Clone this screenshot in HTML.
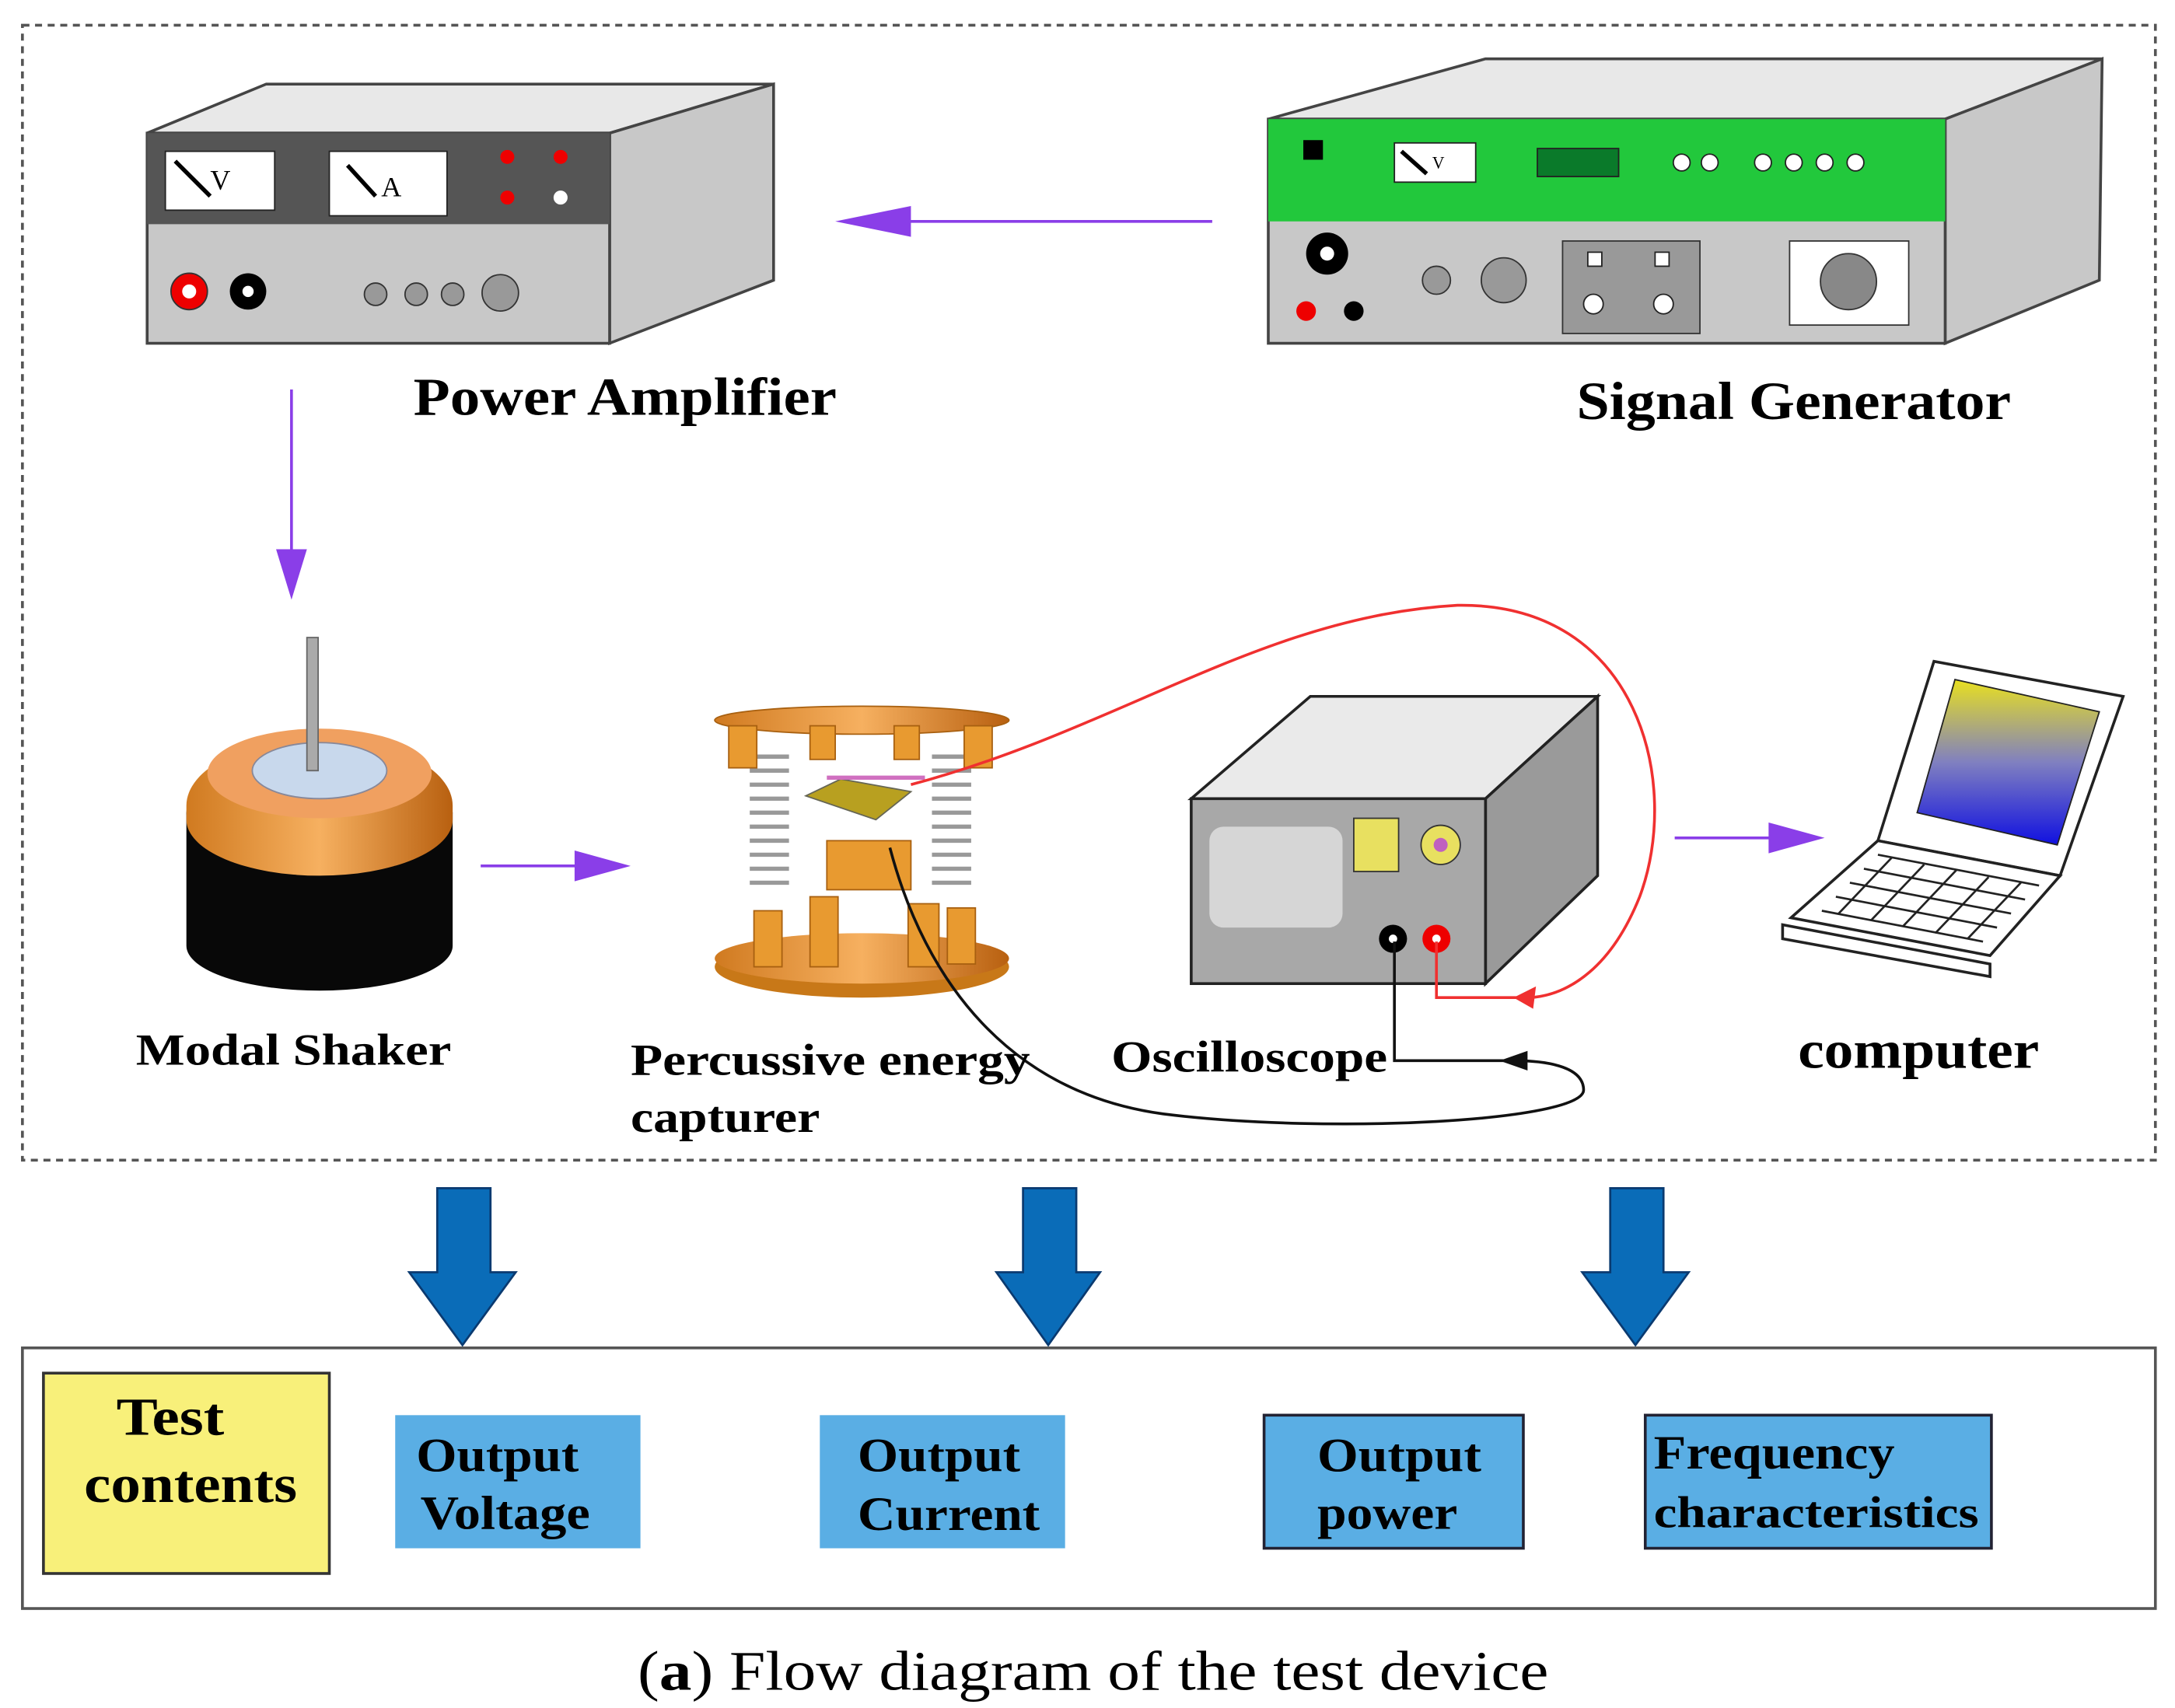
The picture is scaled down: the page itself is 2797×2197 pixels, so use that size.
<!DOCTYPE html>
<html><head><meta charset="utf-8"><style>
html,body{margin:0;padding:0;background:#fff}
svg{display:block}
text{font-family:"Liberation Serif",serif}
</style></head><body>
<svg width="2797" height="2197" viewBox="0 0 1552 1219" preserveAspectRatio="none" xmlns="http://www.w3.org/2000/svg">
<defs>
<linearGradient id="scr" x1="0" y1="0" x2="0" y2="1"><stop offset="0" stop-color="#e8e020"/><stop offset="0.5" stop-color="#8080c0"/><stop offset="1" stop-color="#1010e0"/></linearGradient>
<linearGradient id="org" x1="0" y1="0" x2="1" y2="0"><stop offset="0" stop-color="#d07a20"/><stop offset="0.5" stop-color="#f6b060"/><stop offset="1" stop-color="#b86010"/></linearGradient>
</defs>
<rect x="16" y="18" width="1522" height="810" fill="none" stroke="#555" stroke-width="2" stroke-dasharray="5,4"/>

<!-- Power amplifier -->
<polygon points="105,95 190,60 552,60 435,95" fill="#e8e8e8" stroke="#444" stroke-width="2"/>
<polygon points="435,95 552,60 552,200 435,245" fill="#c8c8c8" stroke="#444" stroke-width="2"/>
<rect x="105" y="95" width="330" height="150" fill="#c8c8c8" stroke="#444" stroke-width="2"/>
<rect x="105" y="95" width="330" height="65" fill="#555"/>
<rect x="118" y="108" width="78" height="42" fill="#fff" stroke="#222"/>
<rect x="235" y="108" width="84" height="46" fill="#fff" stroke="#222"/>
<path d="M125,115 L150,140" stroke="#000" stroke-width="3"/><text x="150" y="135" font-size="20" font-family="Liberation Sans">V</text>
<path d="M248,118 L268,140" stroke="#000" stroke-width="3"/><text x="272" y="140" font-size="20" font-family="Liberation Sans">A</text>
<circle cx="362" cy="112" r="5" fill="#e00"/><circle cx="400" cy="112" r="5" fill="#e00"/>
<circle cx="362" cy="141" r="5" fill="#e00"/><circle cx="400" cy="141" r="5" fill="#fff"/>
<circle cx="135" cy="208" r="13" fill="#e00" stroke="#333"/><circle cx="135" cy="208" r="5" fill="#fff"/>
<circle cx="177" cy="208" r="13" fill="#000"/><circle cx="177" cy="208" r="4" fill="#fff"/>
<circle cx="268" cy="210" r="8" fill="#999" stroke="#333"/><circle cx="297" cy="210" r="8" fill="#999" stroke="#333"/><circle cx="323" cy="210" r="8" fill="#999" stroke="#333"/><circle cx="357" cy="209" r="13" fill="#999" stroke="#333"/>
<text x="295" y="296" font-size="38" font-weight="bold" textLength="302" lengthAdjust="spacingAndGlyphs">Power Amplifier</text>

<!-- Signal generator -->
<polygon points="905,85 1060,42 1500,42 1388,85" fill="#e8e8e8" stroke="#444" stroke-width="2"/>
<polygon points="1388,85 1500,42 1498,200 1388,245" fill="#c8c8c8" stroke="#444" stroke-width="2"/>
<rect x="905" y="85" width="483" height="160" fill="#c8c8c8" stroke="#444" stroke-width="2"/>
<rect x="905" y="85" width="483" height="73" fill="#22c83c"/>
<rect x="930" y="100" width="14" height="14" fill="#000"/>
<rect x="995" y="102" width="58" height="28" fill="#fff" stroke="#222"/><path d="M1000,108 L1018,124" stroke="#000" stroke-width="3"/><text x="1022" y="120" font-size="12" font-family="Liberation Sans">V</text>
<rect x="1097" y="106" width="58" height="20" fill="#0a7a2a" stroke="#222"/>
<g fill="#fff" stroke="#222"><circle cx="1200" cy="116" r="6"/><circle cx="1220" cy="116" r="6"/><circle cx="1258" cy="116" r="6"/><circle cx="1280" cy="116" r="6"/><circle cx="1302" cy="116" r="6"/><circle cx="1324" cy="116" r="6"/></g>
<circle cx="947" cy="181" r="15" fill="#000"/><circle cx="947" cy="181" r="5" fill="#fff"/>
<circle cx="932" cy="222" r="7" fill="#e00"/><circle cx="966" cy="222" r="7" fill="#000"/>
<circle cx="1025" cy="200" r="10" fill="#999" stroke="#333"/><circle cx="1073" cy="200" r="16" fill="#999" stroke="#333"/>
<rect x="1115" y="172" width="98" height="66" fill="#999" stroke="#333"/>
<rect x="1133" y="180" width="10" height="10" fill="#fff" stroke="#222"/><rect x="1181" y="180" width="10" height="10" fill="#fff" stroke="#222"/>
<circle cx="1137" cy="217" r="7" fill="#fff" stroke="#222"/><circle cx="1187" cy="217" r="7" fill="#fff" stroke="#222"/>
<rect x="1277" y="172" width="85" height="60" fill="#fff" stroke="#333"/><circle cx="1319" cy="201" r="20" fill="#888" stroke="#333"/>
<text x="1125" y="299" font-size="38" font-weight="bold" textLength="310" lengthAdjust="spacingAndGlyphs">Signal Generator</text>

<!-- purple arrows -->
<line x1="865" y1="158" x2="620" y2="158" stroke="#8a3ee8" stroke-width="2"/>
<polygon points="596,158 650,147 650,169" fill="#8a3ee8"/>
<line x1="208" y1="278" x2="208" y2="410" stroke="#8a3ee8" stroke-width="2"/>
<polygon points="208,428 197,392 219,392" fill="#8a3ee8"/>
<line x1="343" y1="618" x2="430" y2="618" stroke="#8a3ee8" stroke-width="2"/>
<polygon points="450,618 410,607 410,629" fill="#8a3ee8"/>
<line x1="1195" y1="598" x2="1285" y2="598" stroke="#8a3ee8" stroke-width="2"/>
<polygon points="1302,598 1262,587 1262,609" fill="#8a3ee8"/>

<!-- Modal shaker -->
<path d="M133,580 L133,675 A95,32 0 0 0 323,675 L323,580 Z" fill="#080808"/>
<ellipse cx="228" cy="580" rx="95" ry="30" fill="#111"/>
<path d="M133,575 A95,48 0 0 1 323,575 L323,585 A95,40 0 0 1 133,585 Z" fill="url(#org)"/>
<ellipse cx="228" cy="552" rx="80" ry="32" fill="#f0a060"/>
<ellipse cx="228" cy="550" rx="48" ry="20" fill="#c8d8ec" stroke="#889"/>
<rect x="219" y="455" width="8" height="95" fill="#aaa" stroke="#666"/>

<!-- Percussive capturer -->
<ellipse cx="615" cy="690" rx="105" ry="22" fill="#c87818"/>
<ellipse cx="615" cy="684" rx="105" ry="18" fill="url(#org)"/>
<ellipse cx="615" cy="514" rx="105" ry="10" fill="url(#org)" stroke="#a86010"/>
<g stroke="#999" stroke-width="3" fill="none">
<path d="M535,540 h28 M535,550 h28 M535,560 h28 M535,570 h28 M535,580 h28 M535,590 h28 M535,600 h28 M535,610 h28 M535,620 h28 M535,630 h28"/>
<path d="M665,540 h28 M665,550 h28 M665,560 h28 M665,570 h28 M665,580 h28 M665,590 h28 M665,600 h28 M665,610 h28 M665,620 h28 M665,630 h28"/>
</g>
<g fill="#e89a30" stroke="#a86010"><rect x="520" y="518" width="20" height="30"/><rect x="688" y="518" width="20" height="30"/><rect x="578" y="518" width="18" height="24"/><rect x="638" y="518" width="18" height="24"/>
<rect x="538" y="650" width="20" height="40"/><rect x="578" y="640" width="20" height="50"/><rect x="648" y="645" width="22" height="45"/><rect x="676" y="648" width="20" height="40"/>
<rect x="590" y="600" width="60" height="35"/></g>
<polygon points="575,568 600,556 650,565 625,585" fill="#b8a020" stroke="#665"/>
<line x1="590" y1="555" x2="660" y2="555" stroke="#d070c0" stroke-width="3"/>

<!-- Oscilloscope -->
<polygon points="850,570 935,497 1140,497 1060,570" fill="#eaeaea" stroke="#222" stroke-width="2"/>
<polygon points="1060,570 1140,497 1140,625 1060,702" fill="#9a9a9a" stroke="#222" stroke-width="2"/>
<rect x="850" y="570" width="210" height="132" fill="#a8a8a8" stroke="#222" stroke-width="2"/>
<rect x="863" y="590" width="95" height="72" rx="10" fill="#d6d6d6"/>
<rect x="966" y="584" width="32" height="38" fill="#e8e060" stroke="#333"/>
<circle cx="1028" cy="603" r="14" fill="#e8e060" stroke="#333"/><circle cx="1028" cy="603" r="5" fill="#c060c0"/>
<circle cx="994" cy="670" r="10" fill="#000"/><circle cx="994" cy="670" r="3" fill="#fff"/>
<circle cx="1025" cy="670" r="10" fill="#e00"/><circle cx="1025" cy="670" r="3" fill="#fff"/>

<!-- wires -->
<path d="M650,560 C800,520 900,440 1040,432 C1170,430 1200,560 1170,640 C1150,690 1120,710 1092,712" fill="none" stroke="#f03030" stroke-width="2"/>
<polygon points="1080,712 1096,704 1094,720" fill="#f03030"/>
<path d="M1092,712 L1025,712 L1025,672" fill="none" stroke="#f03030" stroke-width="2"/>
<path d="M635,605 C660,700 720,780 830,795 C950,810 1130,800 1130,778 C1130,760 1100,757 1080,757" fill="none" stroke="#111" stroke-width="2"/>
<polygon points="1070,757 1090,750 1090,764" fill="#111"/>
<path d="M1080,757 L995,757 L995,672" fill="none" stroke="#111" stroke-width="2"/>

<!-- Laptop -->
<polygon points="1340,600 1380,472 1515,497 1470,625" fill="#fff" stroke="#222" stroke-width="2"/>
<polygon points="1368,580 1395,485 1498,508 1468,603" fill="url(#scr)" stroke="#222"/>
<polygon points="1278,655 1340,600 1470,625 1420,682" fill="#fff" stroke="#222" stroke-width="2"/>
<polygon points="1272,660 1420,688 1420,697 1272,670" fill="#fff" stroke="#222" stroke-width="2"/>
<g stroke="#222" stroke-width="1.5">
<line x1="1300" y1="650" x2="1415" y2="672"/><line x1="1310" y1="640" x2="1425" y2="662"/><line x1="1320" y1="630" x2="1435" y2="652"/><line x1="1330" y1="620" x2="1445" y2="642"/><line x1="1340" y1="610" x2="1455" y2="632"/>
<line x1="1312" y1="652" x2="1350" y2="612"/><line x1="1335" y1="657" x2="1373" y2="617"/><line x1="1358" y1="661" x2="1396" y2="621"/><line x1="1381" y1="666" x2="1419" y2="626"/><line x1="1404" y1="670" x2="1442" y2="630"/>
</g>

<!-- labels -->
<g font-weight="bold" lengthAdjust="spacingAndGlyphs">
<text x="97" y="760" font-size="32" textLength="225" lengthAdjust="spacingAndGlyphs">Modal Shaker</text>
<text x="450" y="767" font-size="32" textLength="285" lengthAdjust="spacingAndGlyphs">Percussive energy</text>
<text x="450" y="808" font-size="32" textLength="135" lengthAdjust="spacingAndGlyphs">capturer</text>
<text x="793" y="765" font-size="32" textLength="197" lengthAdjust="spacingAndGlyphs">Oscilloscope</text>
<text x="1283" y="762" font-size="38" textLength="172" lengthAdjust="spacingAndGlyphs">computer</text>
</g>

<!-- blue arrows -->
<g fill="#0a6cb8" stroke="#0a3a70" stroke-width="1.5">
<polygon points="312,848 350,848 350,908 368,908 330,960 292,908 312,908"/>
<polygon points="730,848 768,848 768,908 785,908 748,960 711,908 730,908"/>
<polygon points="1149,848 1187,848 1187,908 1205,908 1167,960 1129,908 1149,908"/>
</g>

<!-- bottom box -->
<rect x="16" y="962" width="1522" height="186" fill="#fff" stroke="#555" stroke-width="2"/>
<rect x="31" y="980" width="204" height="143" fill="#f8f07a" stroke="#333" stroke-width="2"/>
<text x="83" y="1024" font-size="38" font-weight="bold" textLength="77" lengthAdjust="spacingAndGlyphs">Test</text>
<text x="60" y="1072" font-size="38" font-weight="bold" textLength="152" lengthAdjust="spacingAndGlyphs">contents</text>
<g fill="#5aaee4"><rect x="282" y="1010" width="175" height="95"/><rect x="585" y="1010" width="175" height="95"/></g>
<rect x="902" y="1010" width="185" height="95" fill="#5aaee4" stroke="#223" stroke-width="2"/>
<rect x="1174" y="1010" width="247" height="95" fill="#5aaee4" stroke="#223" stroke-width="2"/>
<g font-size="34" font-weight="bold">
<text x="297" y="1050" textLength="116" lengthAdjust="spacingAndGlyphs">Output</text><text x="300" y="1091" textLength="121" lengthAdjust="spacingAndGlyphs">Voltage</text>
<text x="612" y="1050" textLength="116" lengthAdjust="spacingAndGlyphs">Output</text><text x="612" y="1092" textLength="130" lengthAdjust="spacingAndGlyphs">Current</text>
<text x="940" y="1050" textLength="117" lengthAdjust="spacingAndGlyphs">Output</text><text x="940" y="1091" textLength="100" lengthAdjust="spacingAndGlyphs">power</text>
<text x="1180" y="1048" textLength="172" lengthAdjust="spacingAndGlyphs">Frequency</text><text x="1180" y="1090" font-size="32" textLength="232" lengthAdjust="spacingAndGlyphs">characteristics</text>
</g>
<text x="455" y="1206" font-size="40" textLength="650" lengthAdjust="spacingAndGlyphs">(<tspan font-weight="bold">a</tspan>) Flow diagram of the test device</text>
</svg>
</body></html>
